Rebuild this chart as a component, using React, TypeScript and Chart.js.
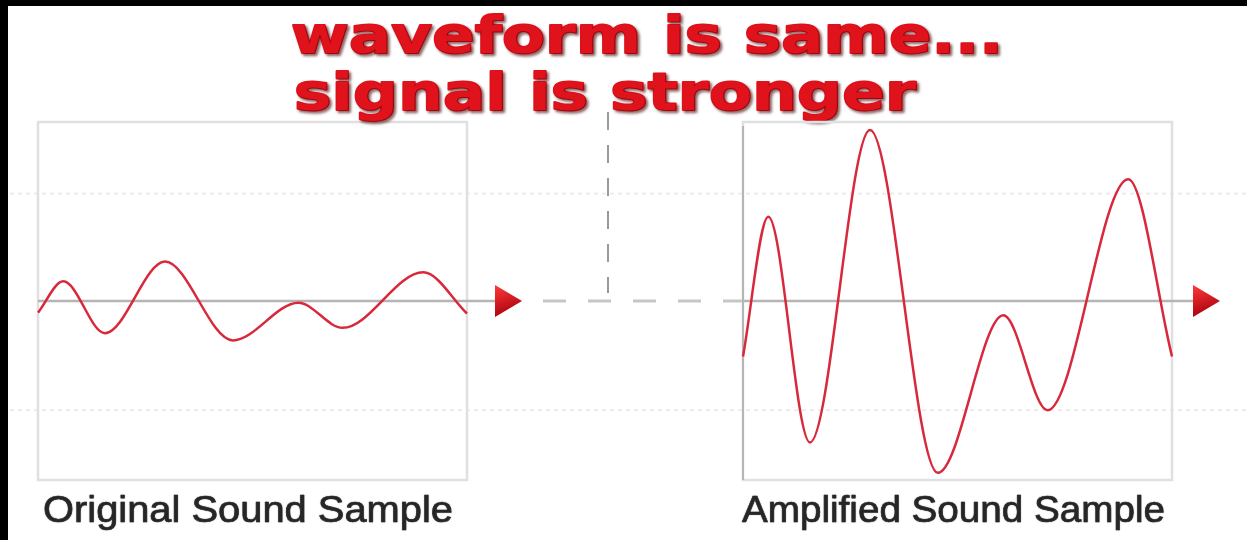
import React, { useEffect, useRef } from "react";
import { Chart, registerables } from "chart.js";

Chart.register(...registerables);

// ---- data: start, turning points, end ----
const timeSteps = [0, 5.9, 15.6, 29.6, 45.4, 60.7, 71, 89.8, 100];
const originalAmp = [-0.065, 0.11, -0.18, 0.22, -0.22, -0.01, -0.15, 0.16, -0.07];
const amplifiedAmp = [-0.31, 0.47, -0.79, 0.955, -0.96, -0.08, -0.61, 0.68, -0.31];
const titleLines = ["waveform is same...", "signal is stronger"];
const captionLeft = "Original Sound Sample";
const captionRight = "Amplified Sound Sample";
const gridLevels = [0.6, -0.61];

const W = 1247;
const H = 540;

function fitText(ctx: CanvasRenderingContext2D, text: string, x: number, y: number, width: number, stroke = 0) {
  const w = ctx.measureText(text).width;
  ctx.save();
  ctx.translate(x, y);
  ctx.scale(width / w, 1);
  if (stroke > 0) {
    ctx.lineWidth = stroke;
    ctx.lineJoin = "round";
    ctx.strokeText(text, 0, 0);
  }
  ctx.fillText(text, 0, 0);
  ctx.restore();
}

function makePanelPlugin(id: string, accentLeft: boolean, arrowGap: number) {
  return {
    id,
    beforeDatasetsDraw(chart: any) {
      const ctx: CanvasRenderingContext2D = chart.ctx;
      const a = chart.chartArea;
      const y0 = chart.scales.y.getPixelForValue(0);
      ctx.save();
      ctx.strokeStyle = "#e0e0e0";
      ctx.lineWidth = 2.5;
      ctx.strokeRect(a.left, a.top, a.right - a.left, a.bottom - a.top);
      if (accentLeft) {
        ctx.strokeStyle = "#a8a8a8";
        ctx.lineWidth = 1.5;
        ctx.beginPath();
        ctx.moveTo(a.left, a.top + 4);
        ctx.lineTo(a.left, a.bottom);
        ctx.stroke();
      }
      ctx.strokeStyle = "#b5b5b5";
      ctx.lineWidth = 2.5;
      ctx.beginPath();
      ctx.moveTo(a.left, y0);
      ctx.lineTo(a.right + arrowGap + 2, y0);
      ctx.stroke();
      const ax = a.right + arrowGap;
      const g = ctx.createLinearGradient(ax, y0 - 16, ax + 10, y0 + 16);
      g.addColorStop(0, "#ff3b3b");
      g.addColorStop(1, "#a8000c");
      ctx.fillStyle = g;
      ctx.beginPath();
      ctx.moveTo(ax, y0 - 16);
      ctx.lineTo(ax + 27, y0);
      ctx.lineTo(ax, y0 + 16);
      ctx.closePath();
      ctx.fill();
      ctx.restore();
    },
  };
}

const overlayPlugin = {
  id: "overlay",
  beforeDatasetsDraw(chart: any) {
    const ctx: CanvasRenderingContext2D = chart.ctx;
    const y = chart.scales.y;
    const y0 = y.getPixelForValue(0);
    ctx.save();
    ctx.strokeStyle = "#ececec";
    ctx.lineWidth = 2;
    ctx.setLineDash([4, 4]);
    gridLevels.forEach((v) => {
      const py = y.getPixelForValue(v);
      ctx.beginPath();
      ctx.moveTo(10, py);
      ctx.lineTo(W, py);
      ctx.stroke();
    });
    ctx.strokeStyle = "#c6c6c6";
    ctx.lineWidth = 3;
    ctx.setLineDash([23, 22]);
    ctx.beginPath();
    ctx.moveTo(543, y0);
    ctx.lineTo(743, y0);
    ctx.stroke();
    ctx.strokeStyle = "#9a9a9a";
    ctx.lineWidth = 2;
    ctx.setLineDash([18, 15]);
    ctx.beginPath();
    ctx.moveTo(608, 112);
    ctx.lineTo(608, y0 - 8);
    ctx.stroke();
    ctx.restore();
  },
  afterDraw(chart: any) {
    const ctx: CanvasRenderingContext2D = chart.ctx;
    ctx.save();
    ctx.fillStyle = "#000";
    ctx.fillRect(0, 0, W, 6);
    ctx.fillRect(0, 0, 8, H);
    // title
    ctx.font = 'bold 52px "DejaVu Sans"';
    ctx.textBaseline = "alphabetic";
    ctx.fillStyle = "#e0121c";
    ctx.strokeStyle = "#e0121c";
    ctx.shadowColor = "rgba(70,0,0,0.55)";
    ctx.shadowOffsetX = 2;
    ctx.shadowOffsetY = 2;
    ctx.shadowBlur = 3;
    fitText(ctx, titleLines[0], 291, 53, 712, 2);
    fitText(ctx, titleLines[1], 294, 110, 622, 2);
    // captions
    ctx.shadowColor = "rgba(0,0,0,0.3)";
    ctx.shadowOffsetX = 0;
    ctx.shadowOffsetY = 0;
    ctx.shadowBlur = 1.5;
    ctx.fillStyle = "#262626";
    ctx.strokeStyle = "#262626";
    ctx.font = '36px "Liberation Sans"';
    fitText(ctx, captionLeft, 43, 522, 410, 0.6);
    fitText(ctx, captionRight, 742, 522, 423, 0.6);
    ctx.restore();
  },
};

function makeConfig(values: number[], padding: any, plugins: any[]) {
  return {
    type: "line" as const,
    data: {
      labels: timeSteps,
      datasets: [
        {
          data: timeSteps.map((t, i) => ({ x: t, y: values[i] })),
          borderColor: "#d8283c",
          borderWidth: 2.5,
          pointRadius: 0,
          cubicInterpolationMode: "monotone" as const,
          fill: false,
          clip: false as any,
        },
      ],
    },
    options: {
      animation: false as const,
      responsive: false,
      devicePixelRatio: 1,
      layout: { padding },
      scales: {
        x: { type: "linear" as const, min: 0, max: 100, display: false },
        y: { type: "linear" as const, min: -1, max: 1, display: false },
      },
      plugins: { legend: { display: false }, tooltip: { enabled: false }, title: { display: false } },
    },
    plugins,
  };
}

export default function App() {
  const leftRef = useRef<HTMLCanvasElement>(null);
  const rightRef = useRef<HTMLCanvasElement>(null);

  useEffect(() => {
    document.body.style.margin = "0";
    const left = new Chart(
      leftRef.current as HTMLCanvasElement,
      makeConfig(originalAmp, { left: 38, right: W - 467, top: 122, bottom: H - 480 }, [
        overlayPlugin,
        makePanelPlugin("panelL", false, 28),
      ]) as any
    );
    const right = new Chart(
      rightRef.current as HTMLCanvasElement,
      makeConfig(amplifiedAmp, { left: 743, right: W - 1172, top: 122, bottom: H - 480 }, [
        makePanelPlugin("panelR", true, 21),
      ]) as any
    );
    return () => {
      left.destroy();
      right.destroy();
    };
  }, []);

  return (
    <div style={{ position: "relative", width: W, height: H, background: "#fff", overflow: "hidden" }}>
      <canvas ref={leftRef} width={W} height={H} style={{ position: "absolute", left: 0, top: 0 }} />
      <canvas ref={rightRef} width={W} height={H} style={{ position: "absolute", left: 0, top: 0 }} />
    </div>
  );
}
